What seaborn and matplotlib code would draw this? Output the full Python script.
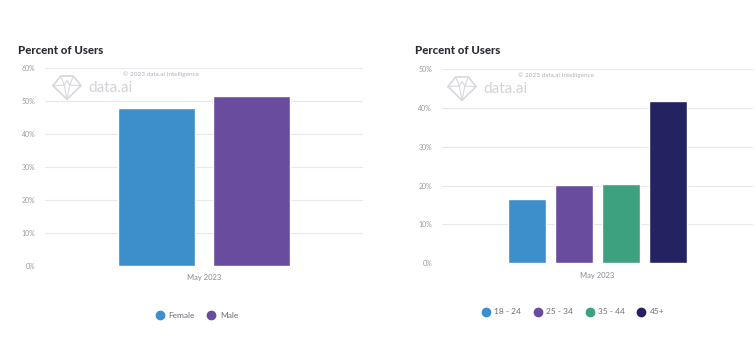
import matplotlib
matplotlib.use("Agg")
import matplotlib.pyplot as plt
from matplotlib.lines import Line2D
from matplotlib.patches import Polygon
import seaborn as sns
import pandas as pd

# Gender split
period = ["May 2023"]
gender_labels = ["Female", "Male"]
gender_values = [47.8, 51.5]
gender_colors = ["#3D8FCC", "#6A4C9E"]

# Age split
age_labels = ["18 - 24", "25 - 34", "35 - 44", "45+"]
age_values = [16.6, 20.1, 20.5, 41.7]
age_colors = ["#3D8FCC", "#6A4C9E", "#3DA07F", "#242260"]

gender_ticks = [0, 10, 20, 30, 40, 50, 60]
age_ticks = [0, 10, 20, 30, 40, 50]

sns.set_theme(style="white")
plt.rcParams["font.family"] = ["Lato", "DejaVu Sans"]

W, H = 756, 339
fig = plt.figure(figsize=(W / 100, H / 100), dpi=100)
fig.patch.set_facecolor("white")

TICK_GRAY = "#9A9AA2"
GRID = "#E8E8EC"
TITLE = "#2B2B33"
MARK = "#D8D8DD"


def fx(px):
    return px / W


def fy(py):
    return 1 - py / H


def px_axes(x0, x1, ytop, ybot):
    return fig.add_axes([fx(x0), fy(ybot), (x1 - x0) / W, (ybot - ytop) / H])


def watermark(x, y):
    """Brand mark with its top-left near pixel (x, y)."""
    cx, cy = x + 15, y + 14
    sx, sy = 14, 13

    def line(pts, lw):
        fig.add_artist(Line2D([fx(cx + sx * a) for a, b in pts],
                              [fy(cy - sy * b) for a, b in pts], color=MARK,
                              linewidth=lw, transform=fig.transFigure, zorder=6,
                              solid_joinstyle="round"))

    # outer gem, tilted sideways
    line([(-1.0, 0.1), (-0.45, 0.85), (0.45, 0.85), (1.0, 0.1),
          (0.0, -0.95), (-1.0, 0.1)], 1.2)
    # facets
    line([(-0.45, 0.85), (-0.2, 0.15), (0.0, 0.5), (0.2, 0.15), (0.45, 0.85)], 0.8)
    line([(-1.0, 0.1), (-0.2, 0.15), (0.0, -0.95), (0.2, 0.15), (1.0, 0.1)], 0.8)
    fig.text(fx(x + 36), fy(cy + 1), "data.ai", fontsize=11, color="#D3D3D8",
             ha="left", va="center", zorder=6)
    fig.text(fx(x + 71), fy(y + 1), "© 2023 data.ai Intelligence",
             fontsize=4.6, color="#B0B0B8", ha="left", va="center", zorder=6)


def draw_panel(ax, labels, values, colors, ticks, width, gap):
    df = pd.DataFrame({"period": period * len(labels), "segment": labels, "share": values})
    sns.barplot(data=df, x="period", y="share", hue="segment", hue_order=labels,
                palette=colors, width=width, gap=gap, saturation=1,
                legend=False, ax=ax, zorder=3)
    ax.set_xlim(-0.5, 0.5)
    ax.set_ylim(0, ticks[-1])
    ax.set_yticks(ticks)
    ax.set_yticklabels([f"{t}%" for t in ticks])
    ax.yaxis.grid(True, color=GRID, linewidth=0.8, zorder=0)
    ax.set_axisbelow(True)
    for s in ax.spines.values():
        s.set_visible(False)
    ax.tick_params(axis="y", length=0, labelsize=5, labelcolor=TICK_GRAY, pad=7)
    ax.tick_params(axis="x", length=0, labelsize=5.5, labelcolor="#8A8A94", pad=6)
    ax.set_xlabel("")
    ax.set_ylabel("")


# Left panel
ax1 = px_axes(45, 363, 67.7, 266)
draw_panel(ax1, gender_labels, gender_values, gender_colors, gender_ticks, 0.6, 0.19)
fig.text(fx(18), fy(50), "Percent of Users", fontsize=8.2, fontweight="black",
         color=TITLE, ha="left", va="center")
watermark(52, 73)

# Right panel
ax2 = px_axes(441.7, 753, 69, 263.3)
draw_panel(ax2, age_labels, age_values, age_colors, age_ticks, 0.604, 0.2)
fig.text(fx(415), fy(50), "Percent of Users", fontsize=8.2, fontweight="black",
         color=TITLE, ha="left", va="center")
watermark(447, 74)


def legend(labels, colors, x_center, y):
    handles = [Line2D([0], [0], marker="o", linestyle="", markersize=6,
                      markerfacecolor=c, markeredgecolor=c) for c in colors]
    leg = fig.legend(handles, labels, loc="center", ncol=len(labels),
                     bbox_to_anchor=(fx(x_center), fy(y)), frameon=False,
                     fontsize=6, handletextpad=0.5, columnspacing=1.5,
                     handlelength=1.0)
    for t in leg.get_texts():
        t.set_color("#6E6E78")


legend(gender_labels, gender_colors, 197, 315)
legend(age_labels, age_colors, 573, 312)

fig.savefig("out.png", dpi=100, facecolor="white")
